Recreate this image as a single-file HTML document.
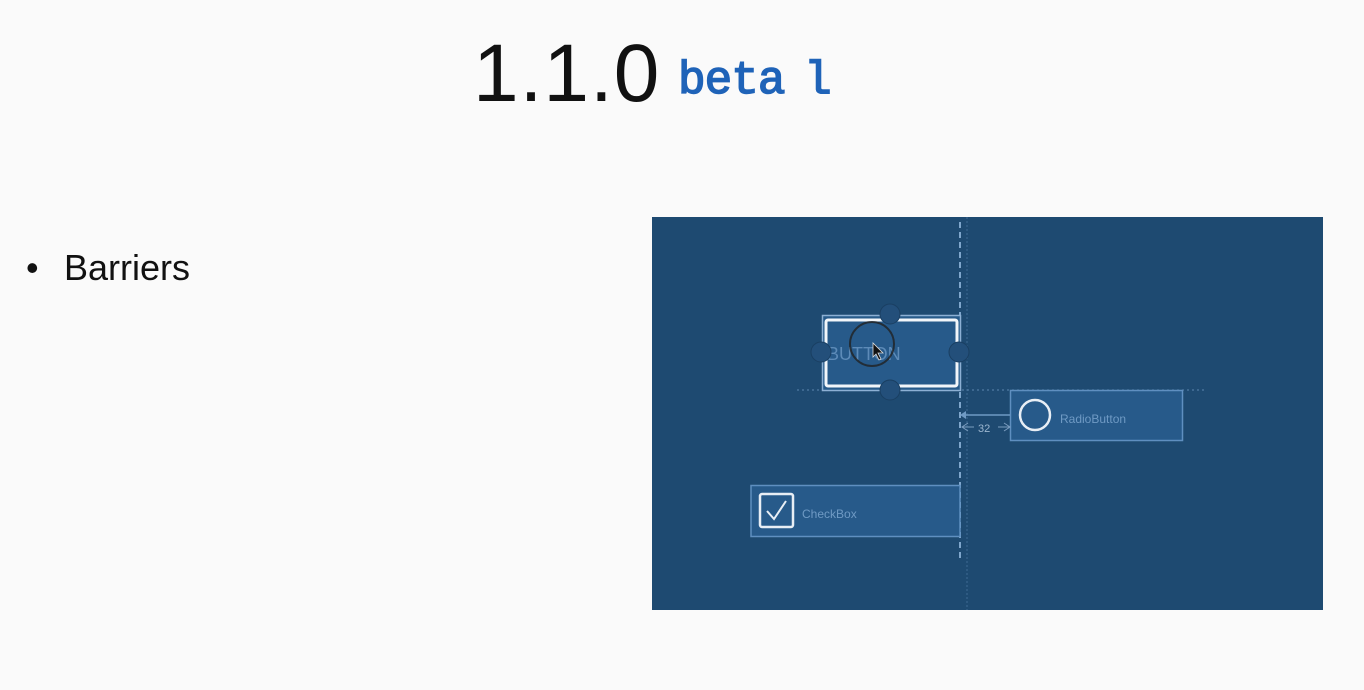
<!DOCTYPE html>
<html><head><style>
body{margin:0;width:1364px;height:690px;background:#fafafa;position:relative;overflow:hidden;font-family:"Liberation Sans",sans-serif}
.a{position:absolute;white-space:nowrap}
</style></head><body>
<div class="a" style="left:473px;top:24px;font-size:82px;color:#111;letter-spacing:1px;line-height:100px">1.1.0</div>
<div class="a" style="left:678px;top:51px;font-family:'Liberation Mono',monospace;font-size:46px;color:#1f63b8;-webkit-text-stroke:1.5px #1f63b8;line-height:60px;letter-spacing:-1px">beta<span style="letter-spacing:-8px"> </span>l</div>
<div class="a" style="left:26px;top:246px;font-size:36px;color:#111;line-height:44px">•</div>
<div class="a" style="left:64px;top:246px;font-size:36px;color:#111;line-height:44px">Barriers</div>
<svg class="a" style="left:0;top:0" width="1364" height="690">
<rect x="652" y="217" width="671" height="393" fill="#1e4a71"/>
<line x1="967" y1="217" x2="967" y2="610" stroke="#3e6a92" stroke-width="1" stroke-dasharray="2,2"/>
<line x1="960" y1="222" x2="960" y2="562" stroke="#7fa6cc" stroke-width="2" stroke-dasharray="6,4"/>
<line x1="797" y1="390" x2="1207" y2="390" stroke="#5c86ae" stroke-width="1" stroke-dasharray="2,3"/>
<rect x="822.5" y="315.5" width="138" height="75" fill="#275a8a" stroke="#8db0d4" stroke-width="1.5"/>
<rect x="826" y="320" width="131" height="66" fill="none" stroke="#f2f6fa" stroke-width="3" rx="2"/>
<text x="827" y="360" font-size="18" fill="#5d8bb8" font-family="Liberation Sans">BUTTON</text>
<g fill="#234f7a" stroke="#1a3f62" stroke-width="1">
<circle cx="890" cy="314" r="10"/><circle cx="890" cy="390" r="10"/><circle cx="821" cy="352" r="10"/><circle cx="959" cy="352" r="10"/>
</g>
<circle cx="872" cy="344" r="22" fill="none" stroke="#222" stroke-width="2" opacity="0.8"/>
<path d="M873 343 L873 357 L876 354 L879 360 L881 359 L878 353 L883 353 Z" fill="#111" stroke="#ddd" stroke-width="0.8"/>
<rect x="1010.5" y="390.5" width="172" height="50" fill="#275a8a" stroke="#5f8fc0" stroke-width="1.5"/>
<circle cx="1035" cy="415" r="15" fill="none" stroke="#e8eef5" stroke-width="2.5"/>
<text x="1060" y="423" font-size="12" fill="#6f9ac4">RadioButton</text>
<line x1="962" y1="415" x2="1010" y2="415" stroke="#6f9ac4" stroke-width="1.5"/>
<path d="M960 415 L966 411 L966 419 Z" fill="#6f9ac4"/>
<text x="978" y="432" font-size="11" fill="#9cb6cf">32</text>
<path d="M968 423 L962 427 L968 431 M962 427 L974 427 M1004 423 L1010 427 L1004 431 M998 427 L1010 427" stroke="#7b9dbf" fill="none" stroke-width="1"/>
<rect x="751" y="485.5" width="209" height="51" fill="#275a8a" stroke="#5f8fc0" stroke-width="1.5"/>
<rect x="760" y="494" width="33" height="33" rx="2" fill="none" stroke="#e8eef5" stroke-width="2.5"/>
<path d="M767 511 L774 519 L786 501" fill="none" stroke="#e8eef5" stroke-width="2"/>
<text x="802" y="518" font-size="12" fill="#6f9ac4">CheckBox</text>
</svg>
</body></html>
